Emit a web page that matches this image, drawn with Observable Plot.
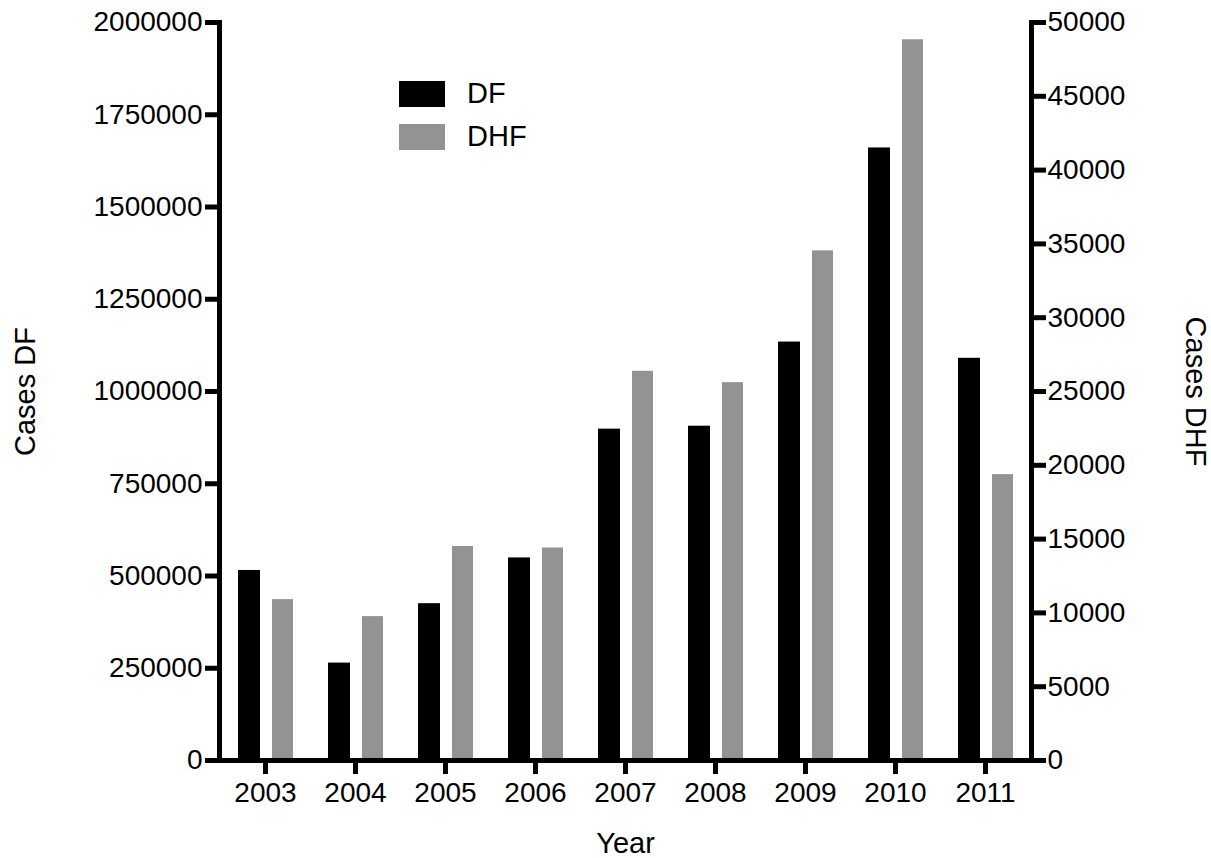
<!DOCTYPE html>
<html>
<head>
<meta charset="utf-8">
<script src="https://cdn.jsdelivr.net/npm/d3@7"></script>
<script src="https://cdn.jsdelivr.net/npm/@observablehq/plot@0.6"></script>
<style>
  html, body { margin: 0; padding: 0; background: #fff; }
  #wrap { position: relative; width: 1211px; height: 858px; font-family: "Liberation Sans", Arial, sans-serif; }
  #legend { position: absolute; left: 399px; top: 72px; font-size: 29px; color: #000; }
  .item { display: flex; align-items: center; height: 43px; }
  .sw { width: 46px; height: 26px; margin-right: 22px; }
</style>
</head>
<body>
<div id="wrap"></div>
<script>
const years = ["2003","2004","2005","2006","2007","2008","2009","2010","2011"];
const dfCases = [515000, 264000, 425000, 549000, 898000, 906000, 1134000, 1660000, 1090000];
const dhfCases = [10900, 9750, 14500, 14400, 26370, 25600, 34530, 48830, 19370];
const leftTicks = [0, 250000, 500000, 750000, 1000000, 1250000, 1500000, 1750000, 2000000];
const rightTicks = [0, 5000, 10000, 15000, 20000, 25000, 30000, 35000, 40000, 45000, 50000];
const seriesNames = ["DF", "DHF"];
const seriesColors = ["#000000", "#939393"];

const leftMax = 2000000, rightMax = 50000;
const ratio = leftMax / rightMax;

const df = years.map((y, i) => ({year: y, value: dfCases[i]}));
const dhf = years.map((y, i) => ({year: y, value: dhfCases[i]}));

const font = "Liberation Sans, Arial, sans-serif";
const fmt = d3.format("d");

const chart = Plot.plot({
  width: 1211,
  height: 858,
  marginLeft: 219,
  marginRight: 180,
  marginTop: 22,
  marginBottom: 98,
  style: {fontFamily: font, fontSize: "28px", color: "#000", background: "#fff"},
  x: {type: "band", domain: years, paddingInner: 0, paddingOuter: 0, axis: null},
  y: {domain: [0, leftMax], axis: null},
  marks: [
    Plot.barY(df, {x: "year", y: "value", fill: seriesColors[0], insetLeft: 18, insetRight: 50}),
    Plot.barY(dhf, {x: "year", y: d => d.value * ratio, fill: seriesColors[1], insetLeft: 52, insetRight: 17}),
    Plot.frame({anchor: "left", stroke: "#000", strokeWidth: 5}),
    Plot.frame({anchor: "right", stroke: "#000", strokeWidth: 5}),
    Plot.ruleY([0], {stroke: "#000", strokeWidth: 5}),
    Plot.axisX({anchor: "bottom", tickSize: 14, tickPadding: 8, strokeWidth: 5, label: null, fontSize: 28}),
    Plot.axisY(leftTicks, {anchor: "left", tickSize: 14, tickPadding: 3, strokeWidth: 5, label: null, tickFormat: fmt, fontSize: 28}),
    Plot.axisY(rightTicks.map(t => t * ratio), {anchor: "right", tickSize: 14, tickPadding: 2, strokeWidth: 5, label: null, tickFormat: d => fmt(d / ratio), fontSize: 28}),
    Plot.text(["Cases DF"], {frameAnchor: "left", dx: -194, rotate: -90, textAnchor: "middle", lineAnchor: "middle", fontSize: 29}),
    Plot.text(["Cases DHF"], {frameAnchor: "right", dx: 164, rotate: 90, textAnchor: "middle", lineAnchor: "middle", fontSize: 29}),
    Plot.text(["Year"], {frameAnchor: "bottom", dy: 83, textAnchor: "middle", lineAnchor: "middle", fontSize: 29})
  ]
});

const wrap = document.getElementById("wrap");
wrap.appendChild(chart);

const legend = document.createElement("div");
legend.id = "legend";
seriesNames.forEach((name, i) => {
  const item = document.createElement("div");
  item.className = "item";
  const sw = document.createElement("div");
  sw.className = "sw";
  sw.style.background = seriesColors[i];
  const label = document.createElement("span");
  label.textContent = name;
  item.appendChild(sw);
  item.appendChild(label);
  legend.appendChild(item);
});
wrap.appendChild(legend);
</script>
</body>
</html>
